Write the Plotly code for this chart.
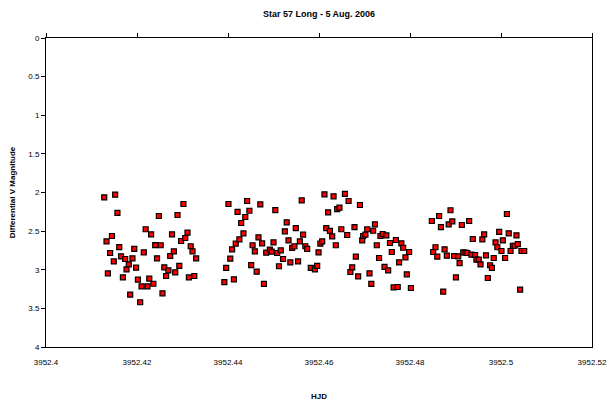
import plotly.graph_objects as go

# Heliocentric Julian Date of each observation
hjd = [
    3952.4128, 3952.4133, 3952.4136, 3952.4141, 3952.4145, 3952.4149, 3952.4152, 3952.4157,
    3952.4161, 3952.4165, 3952.4169, 3952.4174, 3952.4177, 3952.4182, 3952.4185, 3952.4190,
    3952.4194, 3952.4198, 3952.4202, 3952.4207, 3952.4210, 3952.4215, 3952.4219, 3952.4223,
    3952.4227, 3952.4231, 3952.4236, 3952.4240, 3952.4244, 3952.4248, 3952.4252, 3952.4256,
    3952.4260, 3952.4264, 3952.4269, 3952.4273, 3952.4277, 3952.4281, 3952.4284, 3952.4289,
    3952.4293, 3952.4297, 3952.4302, 3952.4306, 3952.4311, 3952.4314, 3952.4318, 3952.4322,
    3952.4326, 3952.4330,
    3952.4392, 3952.4396, 3952.4401, 3952.4405, 3952.4409, 3952.4413, 3952.4417, 3952.4421,
    3952.4425, 3952.4429, 3952.4434, 3952.4438, 3952.4442, 3952.4447, 3952.4451, 3952.4454,
    3952.4459, 3952.4463, 3952.4467, 3952.4471, 3952.4475, 3952.4479, 3952.4484, 3952.4492,
    3952.4496, 3952.4500, 3952.4504, 3952.4508, 3952.4512, 3952.4516, 3952.4521, 3952.4525,
    3952.4529, 3952.4533, 3952.4537, 3952.4541, 3952.4546, 3952.4549, 3952.4554, 3952.4558,
    3952.4562, 3952.4565, 3952.4570, 3952.4574, 3952.4582, 3952.4591, 3952.4596, 3952.4599,
    3952.4603, 3952.4607, 3952.4612, 3952.4616, 3952.4620, 3952.4624, 3952.4629, 3952.4632,
    3952.4637, 3952.4640, 3952.4645, 3952.4649, 3952.4657, 3952.4662, 3952.4665, 3952.4669,
    3952.4673, 3952.4678, 3952.4681, 3952.4686, 3952.4690, 3952.4695, 3952.4697, 3952.4702,
    3952.4706, 3952.4711, 3952.4715, 3952.4719, 3952.4723, 3952.4727, 3952.4732, 3952.4735,
    3952.4740, 3952.4744, 3952.4748, 3952.4752, 3952.4756, 3952.4760, 3952.4764, 3952.4769,
    3952.4773, 3952.4776, 3952.4781, 3952.4785, 3952.4790, 3952.4793, 3952.4798, 3952.4802,
    3952.4848, 3952.4851, 3952.4856, 3952.4860, 3952.4864, 3952.4868, 3952.4873, 3952.4876,
    3952.4881, 3952.4885, 3952.4889, 3952.4893, 3952.4897, 3952.4901, 3952.4906, 3952.4909,
    3952.4914, 3952.4917, 3952.4922, 3952.4926, 3952.4930, 3952.4935, 3952.4938, 3952.4943,
    3952.4946, 3952.4951, 3952.4955, 3952.4959, 3952.4963, 3952.4967, 3952.4971, 3952.4976,
    3952.4980, 3952.4984, 3952.4988, 3952.4992, 3952.4996, 3952.5001, 3952.5004, 3952.5009,
    3952.5013, 3952.5017, 3952.5021, 3952.5026, 3952.5030, 3952.5034, 3952.5037, 3952.5042,
    3952.5045, 3952.5051,
]

# Differential V magnitude for each observation
dmag = [
    2.062, 2.632, 3.046, 2.783, 2.563, 2.891, 2.028, 2.265,
    2.706, 2.826, 3.098, 2.861, 2.994, 2.930, 3.323, 2.852,
    2.731, 2.973, 3.129, 3.421, 3.214, 2.774, 2.476, 3.214,
    3.116, 2.541, 3.181, 2.680, 2.852, 2.304, 2.683, 3.305,
    2.968, 3.081, 3.007, 2.822, 2.541, 2.761, 3.033, 2.291,
    2.951, 2.628, 2.149, 2.589, 2.520, 3.098, 2.696, 2.761,
    3.081, 2.852,
    3.159, 2.977, 2.149, 2.857, 2.735, 3.124, 2.663, 2.252,
    2.606, 2.395, 2.528, 2.317, 2.110, 2.236, 2.939, 2.683,
    2.761, 3.025, 2.580, 2.153, 2.658, 3.184, 2.779, 2.740,
    2.766, 2.645, 2.227, 2.783, 2.955, 2.748, 2.861, 2.502,
    2.386, 2.619, 2.904, 2.718, 2.696, 2.460, 2.891, 2.632,
    2.101, 2.546, 2.696, 2.731, 2.977, 2.994, 2.951, 2.774,
    2.663, 2.632, 2.023, 2.460, 2.256, 2.498, 2.567, 2.049,
    2.683, 2.214, 2.197, 2.476, 2.019, 2.550, 2.110, 3.029,
    2.968, 2.447, 2.831, 3.085, 2.162, 2.619, 2.563, 2.546,
    2.476, 3.046, 3.184, 2.495, 2.412, 2.683, 2.848, 2.563,
    2.537, 2.964, 2.554, 3.007, 2.654, 2.770, 3.227, 2.615,
    3.223, 2.904, 2.658, 2.715, 2.839, 3.059, 2.770, 3.236,
    2.369, 2.770, 2.709, 2.831, 2.304, 2.447, 3.284, 2.735,
    2.818, 2.412, 2.230, 2.373, 2.822, 3.098, 2.826, 2.913,
    2.421, 2.774, 2.779, 2.783, 2.369, 2.805, 2.602, 2.809,
    2.870, 2.870, 2.930, 2.606, 2.541, 2.813, 3.107, 2.942,
    2.977, 2.848, 2.645, 2.709, 2.511, 2.757, 2.619, 2.848,
    2.278, 2.528, 2.757, 2.689, 2.689, 2.554, 2.667, 3.258,
    2.757, 2.757,
]

x_ticks = [3952.40, 3952.42, 3952.44, 3952.46, 3952.48, 3952.50, 3952.52]
x_labels = ["3952.4", "3952.42", "3952.44", "3952.46", "3952.48", "3952.5", "3952.52"]
y_ticks = [0, 0.5, 1, 1.5, 2, 2.5, 3, 3.5, 4]
y_labels = ["0", "0.5", "1", "1.5", "2", "2.5", "3", "3.5", "4"]

FONT = "Liberation Sans, Arial, sans-serif"
x_range = [x_ticks[0], x_ticks[-1]]

fig = go.Figure()
fig.add_trace(go.Scatter(
    x=hjd, y=dmag, mode="markers",
    marker=dict(symbol="square", size=5, color="#ff0000",
                line=dict(color="#000000", width=1.2)),
    showlegend=False,
))
# invisible trace to carry the tick marks along the top edge
fig.add_trace(go.Scatter(x=x_range, y=[0, 0], xaxis="x2", mode="markers",
                         marker=dict(opacity=0), showlegend=False, hoverinfo="skip"))

fig.update_layout(
    width=611, height=405,
    margin=dict(l=46, r=19, t=38, b=58),
    paper_bgcolor="white", plot_bgcolor="white",
    font=dict(family=FONT, size=8, color="black"),
    title=dict(text="<b>Star 57 Long - 5 Aug. 2006</b>", x=0.5, xanchor="center",
               xref="paper", y=1 - 14 / 405, yref="container", yanchor="middle",
               font=dict(family=FONT, size=9, color="black")),
    xaxis=dict(range=x_range, tickvals=x_ticks, ticktext=x_labels, automargin=False,
               showgrid=False, zeroline=False, showline=True, linecolor="black",
               linewidth=1, mirror=True, ticks="", ticklabelstandoff=7,
               tickfont=dict(size=8),
               title=dict(text="<b>HJD</b>", standoff=27, font=dict(size=8))),
    xaxis2=dict(range=x_range, overlaying="x", side="top", tickvals=x_ticks,
                automargin=False,
                showticklabels=False, ticks="outside", ticklen=4, tickcolor="black",
                showgrid=False, zeroline=False, showline=False),
    yaxis=dict(range=[4, 0], tickvals=y_ticks, ticktext=y_labels, automargin=False,
               showgrid=False, zeroline=False, showline=True, linecolor="black",
               linewidth=1, mirror=True, ticks="outside", ticklen=4, tickcolor="black",
               tickfont=dict(size=8),
               title=dict(text="<b>Differential V Magnitude</b>", standoff=11,
                          font=dict(size=8))),
)

fig.write_html("out.html")
